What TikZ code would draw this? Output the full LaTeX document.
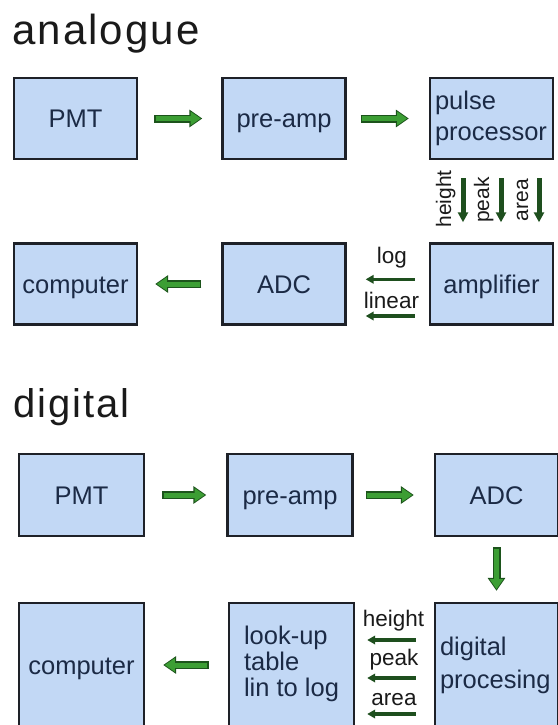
\documentclass[tikz,border=0pt]{standalone}
\usepackage{fontspec}
\setmainfont{Liberation Sans}
\usetikzlibrary{arrows.meta,calc}
\definecolor{boxfill}{HTML}{C2D8F5}
\definecolor{boxline}{HTML}{1E2128}
\definecolor{txt}{HTML}{1B2A45}
\definecolor{agreen}{HTML}{3C9E34}
\definecolor{adark}{HTML}{1C531B}
\definecolor{tdark}{HTML}{1E4F1E}
\definecolor{ttl}{HTML}{1A1A1A}
\newcommand\boxfont{\fontsize{25.5}{31}\selectfont}
\newcommand\lblfont{\fontsize{22.5}{24}\selectfont}
\newcommand\blockarr[2]{\draw[barout] #1 -- #2; \draw[barin] #1 -- #2;}
\begin{document}
\begin{tikzpicture}[x=1pt,y=1pt,
  box/.style={draw=boxline, line width=2.4pt, fill=boxfill, text=txt,
    inner ysep=0pt, inner xsep=5pt, font=\boxfont},
  boxA/.style={box, text width=113pt, minimum height=81pt},
  boxD/.style={box, text width=115pt, minimum height=82pt},
  one/.style={align=center, text height=18.3pt, text depth=0pt},
  title/.style={anchor=base west, inner sep=0pt, text=ttl},
  lbl/.style={anchor=base, inner sep=0pt, text=ttl, font=\lblfont},
  barout/.style={draw=adark, line width=8pt, -{Triangle[length=13pt,width=17pt]}},
  barin/.style={draw=agreen, line width=5pt, shorten <=1.5pt, shorten >=1.6pt,
    -{Triangle[length=10pt,width=13pt]}},
  tarr/.style={draw=tdark, line width=3.5pt, -{Triangle[length=8pt,width=8.5pt]}},
  varr/.style={draw=tdark, line width=5pt, -{Triangle[length=10pt,width=10pt]}}
]
\useasboundingbox (0,0) rectangle (557,-725);

% ---------------- analogue ----------------
\node[title, font=\fontsize{42}{50}\selectfont\addfontfeature{LetterSpace=5}] (tA) at (12,-45) {analogue};

\node[boxA, one] (pmtA) at (75.5,-118.5) {PMT};
\node[boxA, one] (preA) at (284,-118.5) {pre-amp};
\node[boxA, align=left] (pulse) at (491.5,-118.5) {pulse\\processor};
\node[boxA, one] (compA) at (75.5,-284) {computer};
\node[boxA, one] (adcA) at (284,-284) {ADC};
\node[boxA, one] (amp) at (491.5,-284) {amplifier};

\blockarr{([xshift=16pt]pmtA.east)}{([xshift=-19pt]preA.west)}
\blockarr{([xshift=14pt]preA.east)}{([xshift=-20pt]pulse.west)}
\blockarr{([xshift=-20pt]adcA.west)}{([xshift=17pt]compA.east)}

% pulse processor -> amplifier
\draw[varr] ([xshift=-28.5pt,yshift=-18pt]pulse.south) -- ([xshift=-28.5pt,yshift=20pt]amp.north);
\draw[varr] ([xshift=9.5pt,yshift=-18pt]pulse.south) -- ([xshift=9.5pt,yshift=20pt]amp.north);
\draw[varr] ([xshift=47.5pt,yshift=-18pt]pulse.south) -- ([xshift=47.5pt,yshift=20pt]amp.north);
\node[lbl, rotate=90, font=\fontsize{21}{23}\selectfont] (lh) at (451,-199) {height};
\node[lbl, rotate=90, font=\fontsize{21}{23}\selectfont] (lp) at (489,-200) {peak};
\node[lbl, rotate=90, font=\fontsize{21}{23}\selectfont] (la) at (528,-200) {area};

% amplifier -> ADC
\node[lbl] (llog) at (392,-263) {log};
\node[lbl] (llin) at (391.5,-308) {linear};
\draw[tarr] ([xshift=-14pt,yshift=4.7pt]amp.west) -- ([xshift=19pt,yshift=4.7pt]adcA.east);
\draw[tarr] ([xshift=-14pt,yshift=-32pt]amp.west) -- ([xshift=19pt,yshift=-32pt]adcA.east);

% ---------------- digital ----------------
\node[title, font=\fontsize{40}{48}\selectfont\addfontfeature{LetterSpace=5}] (tD) at (13,-417) {digital};

\node[boxD, one] (pmtD) at (81.5,-495) {PMT};
\node[boxD, one] (preD) at (290,-495) {pre-amp};
\node[boxA, one, minimum height=82pt] (adcD) at (496.5,-495) {ADC};

\node[boxD, one, minimum height=124pt] (compD) at (81.5,-665) {computer};
\node[box, minimum width=125pt, minimum height=124pt, align=center,
  font=\fontsize{25.5}{25}\selectfont] (lut) at (291.5,-665)
  {\begin{tabular}{@{}l@{}}look-up\\table\\lin to log\end{tabular}};
\node[boxA, minimum height=124pt, align=left, font=\fontsize{25.5}{33}\selectfont] (dp) at (496.5,-665) {digital\\procesing};

\blockarr{([xshift=17pt]pmtD.east)}{([xshift=-20pt]preD.west)}
\blockarr{([xshift=12pt]preD.east)}{([xshift=-20pt]adcD.west)}
\blockarr{([yshift=-10pt]adcD.south)}{([yshift=11pt]dp.north)}
\blockarr{([xshift=-19pt]lut.west)}{([xshift=18pt]compD.east)}

% digital processing -> look-up table
\node[lbl] (dh) at (393.5,-626) {height};
\node[lbl] (dpk) at (394,-665) {peak};
\node[lbl] (da) at (394,-705) {area};
\draw[tarr] ([xshift=-18pt]dp.west |- 0,-640) -- ([xshift=12pt]lut.east |- 0,-640);
\draw[tarr] ([xshift=-18pt]dp.west |- 0,-678) -- ([xshift=12pt]lut.east |- 0,-678);
\draw[tarr] ([xshift=-18pt]dp.west |- 0,-714) -- ([xshift=12pt]lut.east |- 0,-714);
\end{tikzpicture}
\end{document}
